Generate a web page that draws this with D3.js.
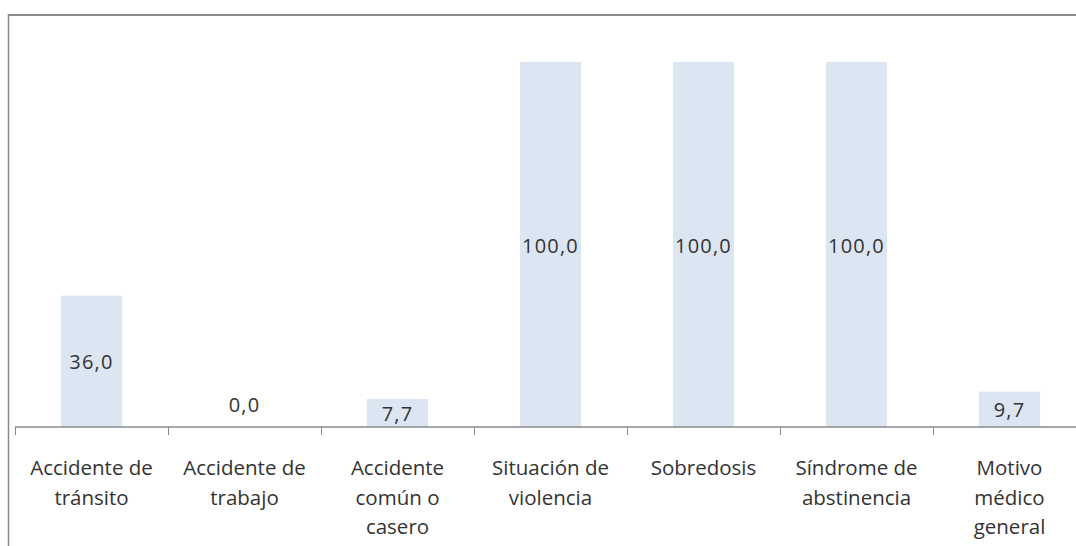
<!DOCTYPE html>
<html>
<head>
<meta charset="utf-8">
<script src="https://cdn.jsdelivr.net/npm/d3@7"></script>
<style>
  body { margin: 0; background: #fff; }
  text { font-family: "Open Sans", Lato, sans-serif; fill: #333; }
</style>
</head>
<body>
<div id="chart"></div>
<script>
// data
var categories = ["Accidente de tránsito", "Accidente de trabajo", "Accidente común o casero",
    "Situación de violencia", "Sobredosis", "Síndrome de abstinencia", "Motivo médico general"];
var labelLines = [["Accidente de", "tránsito"], ["Accidente de", "trabajo"], ["Accidente", "común o", "casero"],
    ["Situación de", "violencia"], ["Sobredosis"], ["Síndrome de", "abstinencia"], ["Motivo", "médico", "general"]];
var values = [36.0, 0.0, 7.7, 100.0, 100.0, 100.0, 9.7];

var width = 1076, height = 546;

var svg = d3.select("#chart")
    .append("svg")
    .attr("width", width)
    .attr("height", height);

// chart frame (cropped, only top and left edges show)
svg.append("line")
    .attr("x1", 8).attr("x2", width)
    .attr("y1", 15).attr("y2", 15)
    .attr("stroke", "#8a8a8a").attr("stroke-width", 2);
svg.append("line")
    .attr("x1", 8.5).attr("x2", 8.5)
    .attr("y1", 14).attr("y2", height)
    .attr("stroke", "#8a8a8a").attr("stroke-width", 1.5);

var x = d3.scaleBand()
    .domain(categories)
    .range([15, 1086])
    .paddingInner(0.6)
    .paddingOuter(0.3);

var y = d3.scaleLinear()
    .domain([0, 100])
    .range([427, 62]);

// bars
svg.selectAll(".bar")
    .data(values)
    .enter().append("rect")
    .attr("class", "bar")
    .attr("x", function (d, i) { return x(categories[i]); })
    .attr("width", x.bandwidth())
    .attr("y", function (d) { return y(d); })
    .attr("height", function (d) { return y(0) - y(d); })
    .attr("fill", "#dce6f2");

// value labels, centred inside the bar
svg.selectAll(".val")
    .data(values)
    .enter().append("text")
    .attr("class", "val")
    .attr("x", function (d, i) { return x(categories[i]) + x.bandwidth() / 2; })
    .attr("y", function (d) {
        if (d === 0) return y(0) - 22;
        return (y(d) + y(0)) / 2 + 1;
    })
    .attr("dy", "0.35em")
    .attr("text-anchor", "middle")
    .style("font-size", "20px")
    .style("letter-spacing", "1.2px")
    .text(function (d) { return d.toFixed(1).replace(".", ","); });

// x axis: line with ticks between categories
var step = x.step();
var bounds = d3.range(categories.length + 1).map(function (i) { return 15 + i * step; });

svg.append("line")
    .attr("x1", 15).attr("x2", width)
    .attr("y1", y(0)).attr("y2", y(0))
    .attr("stroke", "#8a8a8a").attr("stroke-width", 1.5);

svg.selectAll(".tick")
    .data(bounds)
    .enter().append("line")
    .attr("class", "tick")
    .attr("x1", function (d) { return Math.round(d) + 0.5; })
    .attr("x2", function (d) { return Math.round(d) + 0.5; })
    .attr("y1", y(0))
    .attr("y2", y(0) + 8)
    .attr("stroke", "#8a8a8a");

// category labels
var cat = svg.selectAll(".cat")
    .data(categories)
    .enter().append("text")
    .attr("class", "cat")
    .attr("text-anchor", "middle")
    .style("font-size", "20.5px")
    .attr("x", function (d) { return x(d) + x.bandwidth() / 2; })
    .attr("y", 475);

cat.selectAll("tspan")
    .data(function (d, i) { return labelLines[i]; })
    .enter().append("tspan")
    .attr("x", function () { return d3.select(this.parentNode).attr("x"); })
    .attr("dy", function (d, i) { return i === 0 ? 0 : 29.5; })
    .text(function (d) { return d; });
</script>
</body>
</html>
